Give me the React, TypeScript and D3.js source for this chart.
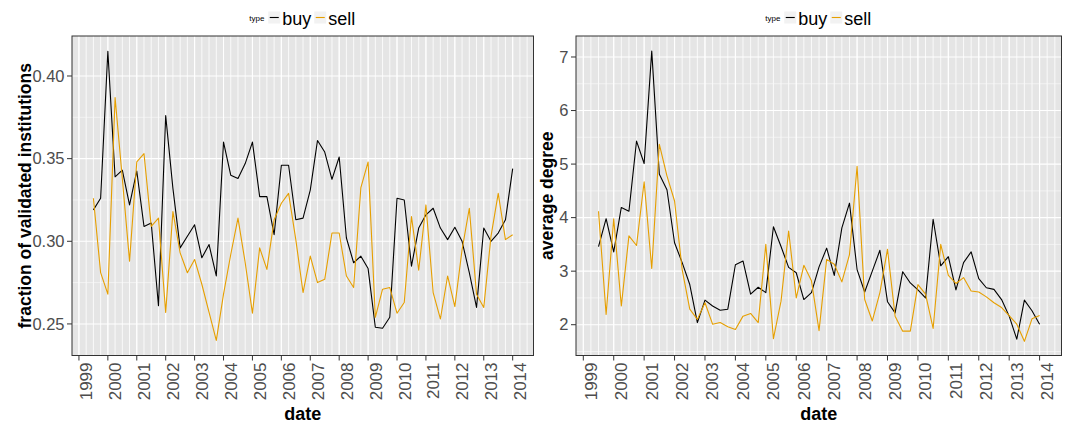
import React from "react";
import * as d3 from "d3";

// ---- data (quarterly observations) ----
const dates = [
  "1999-07", "1999-10",
  "2000-01", "2000-04", "2000-07", "2000-10",
  "2001-01", "2001-04", "2001-07", "2001-10",
  "2002-01", "2002-04", "2002-07", "2002-10",
  "2003-01", "2003-04", "2003-07", "2003-10",
  "2004-01", "2004-04", "2004-07", "2004-10",
  "2005-01", "2005-04", "2005-07", "2005-10",
  "2006-01", "2006-04", "2006-07", "2006-10",
  "2007-01", "2007-04", "2007-07", "2007-10",
  "2008-01", "2008-04", "2008-07", "2008-10",
  "2009-01", "2009-04", "2009-07", "2009-10",
  "2010-01", "2010-04", "2010-07", "2010-10",
  "2011-01", "2011-04", "2011-07", "2011-10",
  "2012-01", "2012-04", "2012-07", "2012-10",
  "2013-01", "2013-04", "2013-07", "2013-10",
  "2014-01",
];

const buyFraction = [
  0.319, 0.326, 0.415, 0.339, 0.343, 0.322, 0.3425, 0.309, 0.311, 0.261,
  0.376, 0.332, 0.296, 0.303, 0.31, 0.29, 0.298, 0.279, 0.36, 0.34,
  0.338, 0.347, 0.36, 0.327, 0.327, 0.304, 0.346, 0.346, 0.313, 0.314,
  0.331, 0.361, 0.354, 0.3375, 0.351, 0.302, 0.287, 0.291, 0.2835, 0.248,
  0.2474, 0.254, 0.326, 0.325, 0.285, 0.308, 0.316, 0.32, 0.308, 0.301,
  0.3085, 0.3, 0.281, 0.26, 0.308, 0.3, 0.305, 0.313, 0.344,
];
const sellFraction = [
  0.326, 0.281, 0.268, 0.387, 0.338, 0.288, 0.348, 0.353, 0.309, 0.314,
  0.257, 0.318, 0.293, 0.281, 0.289, 0.274, 0.257, 0.24, 0.268, 0.292,
  0.314, 0.287, 0.2565, 0.296, 0.283, 0.313, 0.323, 0.329, 0.301, 0.269,
  0.291, 0.275, 0.277, 0.305, 0.305, 0.279, 0.272, 0.3325, 0.348, 0.254,
  0.271, 0.272, 0.2565, 0.263, 0.315, 0.2825, 0.322, 0.269, 0.253, 0.279,
  0.2605, 0.295, 0.32, 0.268, 0.26, 0.303, 0.329, 0.301, 0.304,
];
const buyDegree = [
  3.46, 3.98, 3.36, 4.19, 4.12, 5.43, 5.01, 7.11, 4.81, 4.52,
  3.53, 3.16, 2.75, 2.04, 2.46, 2.35, 2.27, 2.29, 3.12, 3.19,
  2.57, 2.7, 2.6, 3.83, 3.46, 3.07, 2.97, 2.47, 2.6, 3.08,
  3.43, 2.92, 3.81, 4.27, 3.03, 2.61, 3.0, 3.39, 2.43, 2.22,
  2.99, 2.78, 2.65, 2.5, 3.97, 3.1, 3.27, 2.65, 3.16, 3.36,
  2.86, 2.69, 2.66, 2.47, 2.16, 1.73, 2.46, 2.26, 2.01,
];
const sellDegree = [
  4.12, 2.19, 3.98, 2.35, 3.66, 3.48, 4.67, 3.05, 5.37, 4.78,
  4.31, 3.03, 2.29, 2.1, 2.41, 2.01, 2.04, 1.96, 1.91, 2.16,
  2.21, 2.04, 3.5, 1.74, 2.44, 3.75, 2.5, 3.11, 2.82, 1.89,
  3.22, 3.13, 2.8, 3.31, 4.96, 2.47, 2.07, 2.6, 3.41, 2.16,
  1.88, 1.88, 2.75, 2.57, 1.93, 3.5, 2.92, 2.77, 2.88, 2.63,
  2.61, 2.52, 2.41, 2.32, 2.17, 2.01, 1.69, 2.11, 2.17,
];

const yearTicks = [1999, 2000, 2001, 2002, 2003, 2004, 2005, 2006, 2007, 2008, 2009, 2010, 2011, 2012, 2013, 2014];
const fractionTicks = [0.25, 0.3, 0.35, 0.4];
const degreeTicks = [2, 3, 4, 5, 6, 7];
const seriesNames = ["buy", "sell"];
const seriesColors = ["#000000", "#E69F00"];

// ---- layout ----
const FONT = "'Liberation Sans', Arial, Helvetica, sans-serif";
const TOP = 36;
const BOTTOM = 355.5;
const X_DOMAIN = [1998.76, 2014.72];

const toYear = (s: string) => {
  const [y, m] = s.split("-").map(Number);
  return y + (m - 1) / 12;
};
const years = dates.map(toYear);

type PanelProps = {
  x0: number;
  x1: number;
  buy: number[];
  sell: number[];
  yDomain: [number, number];
  yTicks: number[];
  yMinor: number[];
  fmt: (v: number) => string;
  yTitle: string;
  yTitleX: number;
};

function Panel({ x0, x1, buy, sell, yDomain, yTicks, yMinor, fmt, yTitle, yTitleX }: PanelProps) {
  const x = d3.scaleLinear().domain(X_DOMAIN).range([x0, x1]);
  const y = d3.scaleLinear().domain(yDomain).range([BOTTOM, TOP]);
  const quarterGrid = d3.range(1999, 2014.51, 0.25).filter((q) => x(q) > x0 && x(q) < x1);
  const line = d3
    .line<number>()
    .x((_, i) => x(years[i]))
    .y((v) => y(v));
  const cx = (x0 + x1) / 2;
  const cy = (TOP + BOTTOM) / 2;
  const series = [buy, sell];
  return (
    <g>
      {/* legend */}
      <g fontFamily={FONT}>
        <text x={cx - 53.5} y={20.5} fontSize={8} fill="#000">type</text>
        {seriesNames.map((n, k) => {
          const bx = cx + (k === 0 ? -34.5 : 11.5);
          return (
            <g key={n}>
              <rect x={bx} y={11.5} width={12} height={12} fill="#F2F2F2" />
              <line x1={bx + 1.5} x2={bx + 10.5} y1={17.5} y2={17.5} stroke={seriesColors[k]} strokeWidth={1.1} />
              <text x={bx + 14} y={24.5} fontSize={18} fill="#000">{n}</text>
            </g>
          );
        })}
      </g>
      <rect x={x0} y={TOP} width={x1 - x0} height={BOTTOM - TOP} fill="#E5E5E5" />
      {yMinor.map((v) => (
        <line key={"ym" + v} x1={x0} x2={x1} y1={y(v)} y2={y(v)} stroke="#F2F2F2" strokeWidth={1} />
      ))}
      {quarterGrid.map((q) => (
        <line key={"xq" + q} x1={x(q)} x2={x(q)} y1={TOP} y2={BOTTOM} stroke="#FAFAFA" strokeWidth={1} />
      ))}
      {yTicks.map((v) => (
        <line key={"yM" + v} x1={x0} x2={x1} y1={y(v)} y2={y(v)} stroke="#FFFFFF" strokeWidth={1.1} />
      ))}
      {yearTicks.map((t) => (
        <line key={"xM" + t} x1={x(t)} x2={x(t)} y1={TOP} y2={BOTTOM} stroke="#FFFFFF" strokeWidth={1.1} />
      ))}
      {series.map((s, k) => (
        <path key={k} d={line(s) || ""} fill="none" stroke={seriesColors[k]} strokeWidth={1.1} strokeLinejoin="round" />
      ))}
      <rect x={x0} y={TOP} width={x1 - x0} height={BOTTOM - TOP} fill="none" stroke="#333333" strokeWidth={1} />
      {/* y axis */}
      {yTicks.map((v) => (
        <g key={"yt" + v}>
          <line x1={x0 - 5} x2={x0} y1={y(v)} y2={y(v)} stroke="#333333" strokeWidth={1} />
          <text x={x0 - 7.5} y={y(v)} dy="0.35em" textAnchor="end" fontFamily={FONT} fontSize={16.5} fill="#4D4D4D">
            {fmt(v)}
          </text>
        </g>
      ))}
      {/* x axis */}
      {yearTicks.map((t) => (
        <g key={"xt" + t}>
          <line x1={x(t)} x2={x(t)} y1={BOTTOM} y2={BOTTOM + 5} stroke="#333333" strokeWidth={1} />
          <text
            transform={`translate(${x(t) + 13.5},${BOTTOM + 7}) rotate(-90)`}
            textAnchor="end"
            fontFamily={FONT}
            fontSize={17}
            fill="#4D4D4D"
          >
            {t}
          </text>
        </g>
      ))}
      <text x={cx} y={420} textAnchor="middle" fontFamily={FONT} fontSize={18} fontWeight="bold" fill="#000">
        date
      </text>
      <text
        transform={`translate(${yTitleX},${cy}) rotate(-90)`}
        textAnchor="middle"
        fontFamily={FONT}
        fontSize={17.5}
        fontWeight="bold"
        fill="#000"
      >
        {yTitle}
      </text>
    </g>
  );
}

export default function App() {
  return (
    <svg
      width={1068}
      height={425}
      style={{ position: "absolute", left: 0, top: 0, background: "#fff" }}
    >
      <rect width={1068} height={425} fill="#fff" />
      <Panel
        x0={72}
        x1={533.5}
        buy={buyFraction}
        sell={sellFraction}
        yDomain={[0.2309, 0.4242]}
        yTicks={fractionTicks}
        yMinor={[0.275, 0.325, 0.375]}
        fmt={d3.format(".2f")}
        yTitle="fraction of validated institutions"
        yTitleX={31}
      />
      <Panel
        x0={576}
        x1={1061.5}
        buy={buyDegree}
        sell={sellDegree}
        yDomain={[1.425, 7.392]}
        yTicks={degreeTicks}
        yMinor={[1.5, 2.5, 3.5, 4.5, 5.5, 6.5]}
        fmt={d3.format("d")}
        yTitle="average degree"
        yTitleX={553}
      />
    </svg>
  );
}
